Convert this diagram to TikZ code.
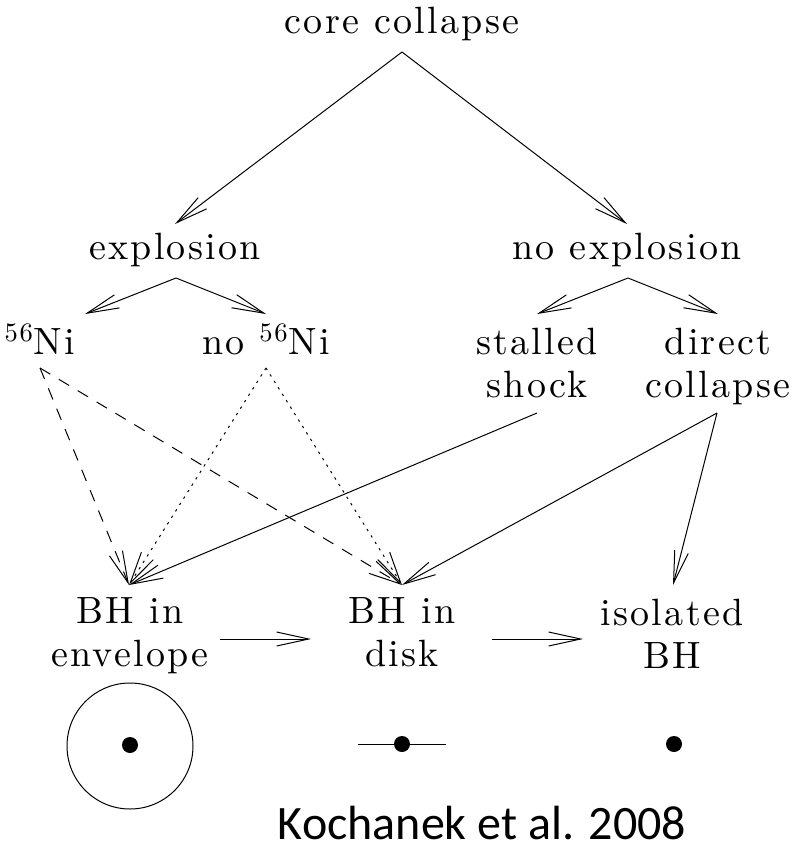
\documentclass[tikz,border=0pt]{standalone}
\usepackage{fontspec}
\newfontfamily\citefont{Carlito}
\newfontfamily\plotfont{lmroman10-regular.otf}[LetterSpace=6]
\usetikzlibrary{arrows.meta}

\begin{document}
\begin{tikzpicture}[x=0.5pt, y=-0.5pt, >={Straight Barb[length=16pt,width=7pt]},
    lbl/.style={anchor=base, inner sep=0pt, align=center,
      font=\plotfont\fontsize{19}{21.5}\selectfont},
    flow/.style={->, line width=0.5pt},
    nickel/.style={flow, dash pattern=on 6pt off 5pt},
    nonickel/.style={flow, dash pattern=on 1.2pt off 2.6pt}]
  \def\Dot{4pt}
  \useasboundingbox (0,0) rectangle (794,852);

  % 1. Labels (two-line labels sit on the baseline of their last line)
  \node[lbl] (CoreCollapse) at (402,33) {core collapse};
  \node[lbl] (Explosion)    at (175,259) {explosion};
  \node[lbl] (NoExplosion)  at (627,259) {no explosion};
  \node[lbl] (Nickel)       at (40,354) {\textsuperscript{56}Ni};
  \node[lbl] (NoNickel)     at (266,354) {no \textsuperscript{56}Ni};
  \node[lbl] (Stalled)      at (537,397) {stalled\\shock};
  \node[lbl] (Direct)       at (718,397) {direct\\collapse};
  \node[lbl] (Envelope)     at (130,666) {BH in\\envelope};
  \node[lbl] (Disk)         at (402,666) {BH in\\disk};
  \node[lbl] (Isolated)     at (672,668) {isolated\\BH};

  % 2. Arrow ends (below / above each label)
  \coordinate (CoreOut)     at (402,52);
  \coordinate (ExplIn)      at (175,224);
  \coordinate (ExplOut)     at (176,278);
  \coordinate (NoExplIn)    at (627,224);
  \coordinate (NoExplOut)   at (628,278);
  \coordinate (NickelIn)    at (85,314);
  \coordinate (NickelOut)   at (40,368);
  \coordinate (NoNickelIn)  at (266,314);
  \coordinate (NoNickelOut) at (266,368);
  \coordinate (StalledIn)   at (537,314);
  \coordinate (StalledOut)  at (537,413);
  \coordinate (DirectIn)    at (718,314);
  \coordinate (DirectOut)   at (717,413);
  \coordinate (EnvIn)       at (129,585);
  \coordinate (EnvOut)      at (220,639);
  \coordinate (DiskIn)      at (402,585);
  \coordinate (DiskLeft)    at (311,639);
  \coordinate (DiskOut)     at (492,639);
  \coordinate (IsoIn)       at (673,585);
  \coordinate (IsoLeft)     at (583,639);

  % 3. Tree
  \draw[flow] (CoreOut) -- (ExplIn);
  \draw[flow] (CoreOut) -- (NoExplIn);
  \draw[flow] (ExplOut) -- (NickelIn);
  \draw[flow] (ExplOut) -- (NoNickelIn);
  \draw[flow] (NoExplOut) -- (StalledIn);
  \draw[flow] (NoExplOut) -- (DirectIn);

  % 4. Outcomes
  \draw[nickel] (NickelOut) -- (EnvIn);
  \draw[nickel] (NickelOut) -- (DiskIn);
  \draw[nonickel] (NoNickelOut) -- (EnvIn);
  \draw[nonickel] (NoNickelOut) -- (DiskIn);
  \draw[flow] (StalledOut) -- (EnvIn);
  \draw[flow] (DirectOut) -- (DiskIn);
  \draw[flow] (DirectOut) -- (IsoIn);
  \draw[flow] (EnvOut) -- (DiskLeft);
  \draw[flow] (DiskOut) -- (IsoLeft);

  % 5. Sketches
  \draw[line width=0.5pt] (130,746) circle (31.5pt);
  \fill (130,745) circle (\Dot);
  \draw[line width=0.5pt] (358,744) -- (446,744);
  \fill (402,744) circle (\Dot);
  \fill (674,744) circle (\Dot);

  % 6. Reference
  \node[anchor=base, inner sep=0pt, font=\citefont\fontsize{24}{28}\selectfont]
    (Ref) at (482,839) {Kochanek et al. 2008};
\end{tikzpicture}
\end{document}
